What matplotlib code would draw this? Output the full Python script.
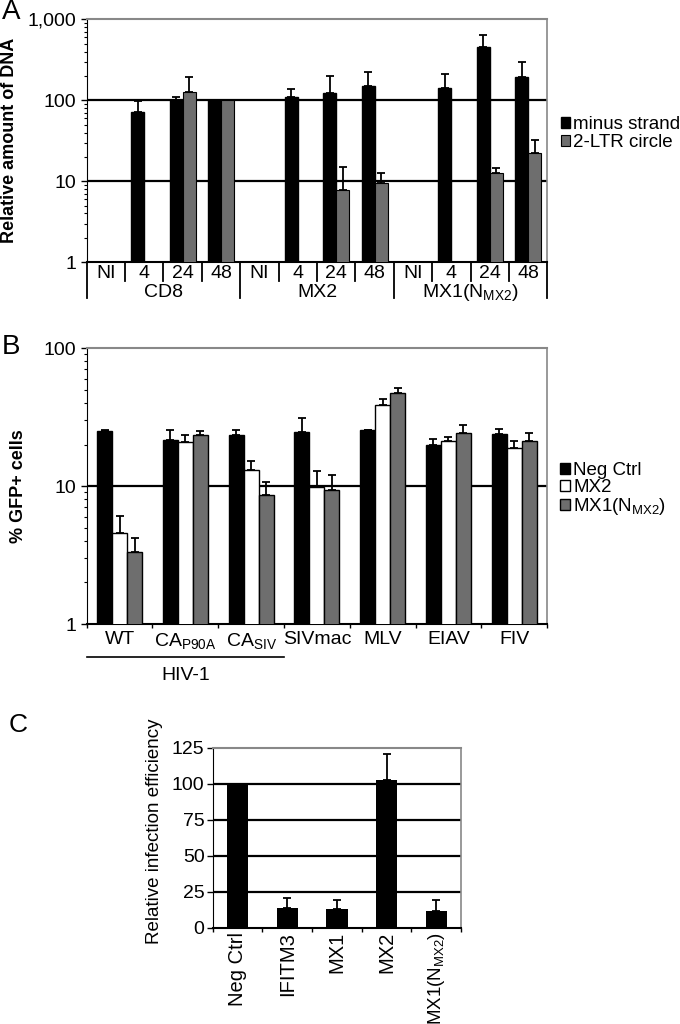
import numpy as np
import matplotlib.pyplot as plt
from matplotlib.ticker import FixedLocator, NullFormatter
import matplotlib.transforms as mtrans

plt.rcParams['font.family'] = ['Liberation Sans', 'DejaVu Sans']
plt.rcParams['mathtext.fontset'] = 'custom'
plt.rcParams['mathtext.rm'] = 'Liberation Sans'
plt.rcParams['mathtext.it'] = 'Liberation Sans'

GRAY = '#6e6e6e'
EDGE = '#888888'

# ---- panel A data ----
groups_a = ['CD8', 'MX2', 'MX1(N$_{\\mathrm{MX2}}$)']
times_a = ['NI', '4', '24', '48']
minus_val = [np.nan, 72, 101, 100, np.nan, 109, 124, 150, np.nan, 142, 453, 195]
minus_err = [0, 27, 10, 0, 0, 31, 77, 73, 0, 67, 189, 104]
ltr_val = [np.nan, np.nan, 128, 100, np.nan, np.nan, 7.9, 9.5, np.nan, np.nan, 12.7, 22.5]
ltr_err = [0, 0, 67, 0, 0, 0, 7.1, 3.3, 0, 0, 1.9, 9.5]

# ---- panel B data ----
viruses_b = ['WT', 'CA$_{\\mathrm{P90A}}$', 'CA$_{\\mathrm{SIV}}$', 'SIVmac', 'MLV', 'EIAV', 'FIV']
negctrl_val = [25, 21.4, 23.5, 24.6, 25.3, 20.0, 23.9]
negctrl_err = [0.3, 4.2, 2.1, 6.4, 0.3, 1.9, 2.0]
mx2_val = [4.6, 20.7, 13.0, 9.9, 38.7, 21.1, 18.9]
mx2_err = [1.5, 2.6, 2.2, 3.0, 3.8, 1.5, 2.2]
mx1n_val = [3.3, 23.5, 8.6, 9.4, 46.9, 24.3, 21.2]
mx1n_err = [0.9, 1.5, 2.1, 2.7, 4.4, 3.5, 3.1]

# ---- panel C data ----
factors_c = ['Neg Ctrl', 'IFITM3', 'MX1', 'MX2', 'MX1(N$_{\\mathrm{MX2}}$)']
infect_val = [100, 13.6, 12.9, 102.3, 11.6]
infect_err = [0, 7.4, 6.3, 18.5, 7.6]

fig = plt.figure(figsize=(6.8, 10.24), dpi=100)


def frame(a):
    a.spines['top'].set_color(EDGE)
    a.spines['right'].set_color(EDGE)
    a.spines['top'].set_linewidth(1.5)
    a.spines['right'].set_linewidth(1.2)
    a.spines['bottom'].set_linewidth(1.5)


# ================= A =================
ax = fig.add_axes([0.1275, 0.744, 0.6776, 0.237])
n = len(minus_val)
x = np.arange(n)
w = 0.34
ax.bar(x - w / 2, minus_val, w, color='black', edgecolor='black', zorder=3,
       label='minus strand')
ax.bar(x + w / 2, ltr_val, w, color=GRAY, edgecolor='black', lw=0.8, zorder=3,
       label='2-LTR circle')
ax.errorbar(x - w / 2, minus_val, yerr=[np.zeros(n), minus_err], fmt='none',
            ecolor='black', elinewidth=1.3, capsize=3, capthick=1.3, zorder=4)
ax.errorbar(x + w / 2, ltr_val, yerr=[np.zeros(n), ltr_err], fmt='none',
            ecolor='black', elinewidth=1.3, capsize=3, capthick=1.3, zorder=4)
ax.set_yscale('log')
ax.set_ylim(1, 1000)
ax.set_xlim(-0.5, n - 0.5)
for v in [10, 100]:
    ax.axhline(v, color='black', lw=1.6, zorder=1)
ax.yaxis.set_major_locator(FixedLocator([1, 10, 100, 1000]))
ax.set_yticklabels(['1', '10', '100', '1,000'], fontsize=14)
ax.yaxis.set_minor_formatter(NullFormatter())
ax.tick_params(axis='y', which='major', length=4, width=1)
ax.tick_params(axis='y', which='minor', length=2, width=0.8)
ax.set_xticks([])
frame(ax)
ax.set_ylabel('Relative amount of DNA', fontsize=13, fontweight='bold')
ax.yaxis.set_label_coords(-0.15, 0.5)

# table of categories under the axis
trans = mtrans.blended_transform_factory(ax.transData, ax.transAxes)
ax_h = 0.237 * 1024
for i in range(n):
    ax.text(i, -11.5 / ax_h, times_a[i % 4], transform=trans, ha='center',
            va='center', fontsize=14)
for i in range(n + 1):
    low = -36 / ax_h if i % 4 == 0 else -19 / ax_h
    ax.plot([i - 0.5, i - 0.5], [0, low], transform=trans, color='black',
            lw=1.3, clip_on=False)
for g, name in enumerate(groups_a):
    ax.text(4 * g + 1.5, -30 / ax_h, name, transform=trans, ha='center',
            va='center', fontsize=14)
ax.legend(loc='center left', bbox_to_anchor=(1.0, 0.53), frameon=False,
          fontsize=13.5, handlelength=0.5, handleheight=0.5, handletextpad=0.15,
          labelspacing=0.05, borderaxespad=0.3)

# ================= B =================
bx = fig.add_axes([0.1275, 0.3906, 0.6770, 0.2695])
m = len(viruses_b)
xb = np.arange(m)
wb = 0.228
series_b = [(negctrl_val, negctrl_err, 'black', 'Neg Ctrl'),
            (mx2_val, mx2_err, 'white', 'MX2'),
            (mx1n_val, mx1n_err, GRAY, 'MX1(N$_{\\mathrm{MX2}}$)')]
for k, (vals, errs, col, lab) in enumerate(series_b):
    pos = xb + (k - 1) * wb
    bx.bar(pos, vals, wb, color=col, edgecolor='black', lw=1.0, zorder=3,
           label=lab)
    bx.errorbar(pos, vals, yerr=[np.zeros(m), errs], fmt='none', ecolor='black',
                elinewidth=1.3, capsize=3, capthick=1.3, zorder=4)
bx.set_yscale('log')
bx.set_ylim(1, 100)
bx.set_xlim(-0.5, m - 0.5)
bx.axhline(10, color='black', lw=1.6, zorder=1)
bx.yaxis.set_major_locator(FixedLocator([1, 10, 100]))
bx.set_yticklabels(['1', '10', '100'], fontsize=14)
bx.yaxis.set_minor_formatter(NullFormatter())
bx.tick_params(axis='y', which='major', length=4, width=1)
bx.tick_params(axis='y', which='minor', length=2, width=0.8)
bx.set_xticks(xb)
bx.set_xticklabels(viruses_b, fontsize=14)
bx.set_xticks(np.arange(m + 1) - 0.5, minor=True)
bx.tick_params(axis='x', which='major', length=0, pad=5)
bx.tick_params(axis='x', which='minor', length=3, width=1)
frame(bx)
bx.set_ylabel('% GFP+ cells', fontsize=13, fontweight='bold')
bx.yaxis.set_label_coords(-0.13, 0.5)
transb = mtrans.blended_transform_factory(bx.transData, bx.transAxes)
bh = 0.2695 * 1024
bx.plot([-0.5, 2.5], [-32.7 / bh, -32.7 / bh], transform=transb, color='black',
        lw=1.2, clip_on=False)
bx.text(1.0, -51 / bh, 'HIV-1', transform=transb, ha='center', va='center',
        fontsize=14)
bx.legend(loc='center left', bbox_to_anchor=(1.0, 0.486), frameon=False,
          fontsize=13.5, handlelength=0.55, handleheight=0.55, handletextpad=0.15,
          labelspacing=0.0, borderaxespad=0.3)

# ================= C =================
cx = fig.add_axes([0.313, 0.0938, 0.365, 0.176])
p = len(factors_c)
xc = np.arange(p)
cx.bar(xc, infect_val, 0.43, color='black', zorder=3)
cx.errorbar(xc, infect_val, yerr=[np.zeros(p), infect_err], fmt='none',
            ecolor='black', elinewidth=1.3, capsize=3, capthick=1.3, zorder=4)
cx.set_ylim(0, 125)
cx.set_xlim(-0.5, p - 0.5)
for v in [25, 50, 75, 100]:
    cx.axhline(v, color='black', lw=1.6, zorder=1)
cx.set_yticks([0, 25, 50, 75, 100, 125])
cx.set_yticklabels(['0', '25', '50', '75', '100', '125'], fontsize=14)
cx.tick_params(axis='y', length=4, width=1, pad=2)
cx.set_xticks(xc)
cx.set_xticklabels(factors_c, rotation=90, fontsize=14.5)
cx.get_xticklabels()[-1].set_fontsize(13.5)
cx.set_xticks(np.arange(p + 1) - 0.5, minor=True)
cx.tick_params(axis='x', which='major', length=0, pad=3)
cx.tick_params(axis='x', which='minor', length=3, width=1)
frame(cx)
cx.set_ylabel('Relative infection efficiency', fontsize=13.5)
cx.yaxis.set_label_coords(-0.2, 0.536)

# panel letters
fig.text(0.003, 0.988, 'A', fontsize=20, va='center', ha='left')
fig.text(0.003, 0.661, 'B', fontsize=20, va='center', ha='left')
fig.text(0.012, 0.292, 'C', fontsize=19, va='center', ha='left')

plt.savefig('out.png', dpi=100)
plt.close()
